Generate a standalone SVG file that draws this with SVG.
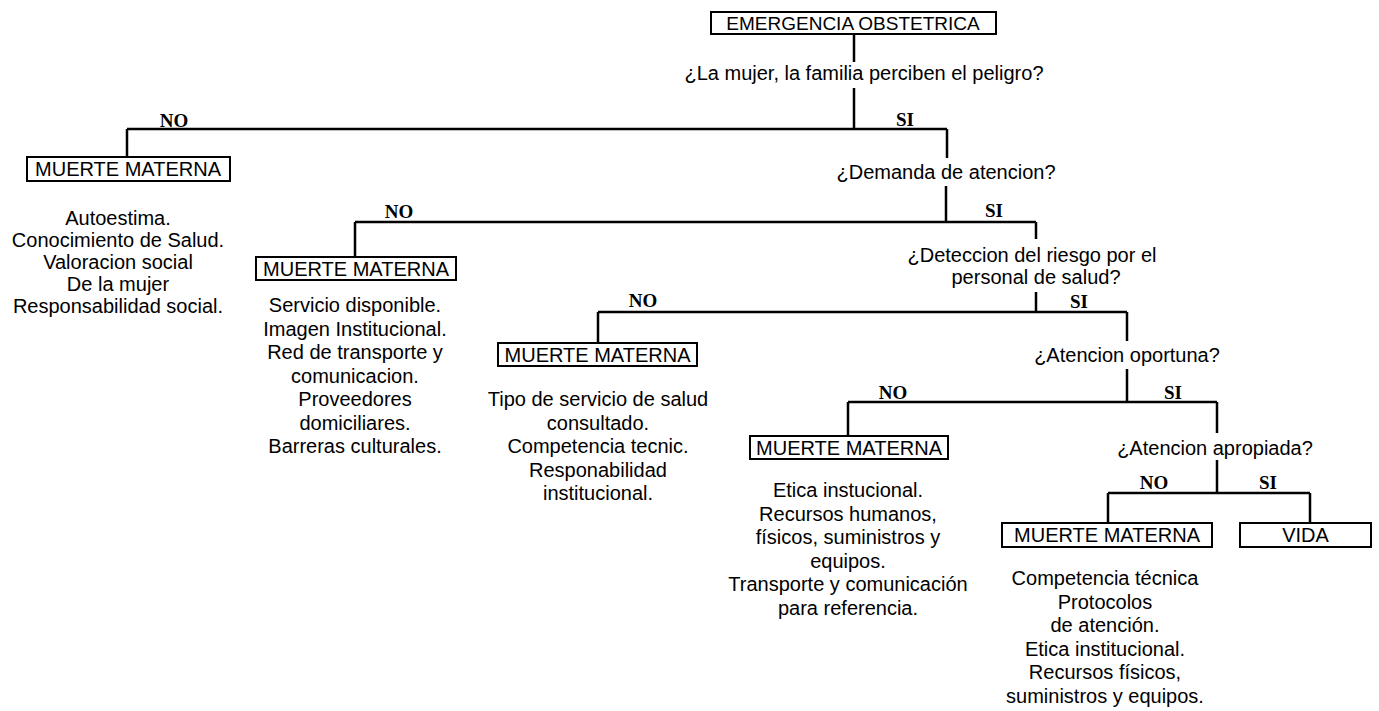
<svg xmlns="http://www.w3.org/2000/svg" width="1379" height="711" viewBox="0 0 1379 711">
<style>
text{font-family:"Liberation Sans",Arial,sans-serif;fill:#000;text-anchor:middle}
.t{font-size:20px}
.bx{font-size:20px}
.lbl{font-family:"Liberation Serif","Times New Roman",serif;font-weight:bold;font-size:19px}
.box{fill:#fff;stroke:#000;stroke-width:2}
.ln{stroke:#000;stroke-width:2.5;fill:none}
</style>
<rect width="1379" height="711" fill="#fff"/>
<g id="connectors" class="ln">
<path d="M854 34V62M854 88V129M127 129H947M127 129V157M947 129V158"/>
<path d="M946 186V222M355 222H1036M355 222V257M1036 222V239"/>
<path d="M1036 292V312M598 312H1127M598 312V343M1127 312V341"/>
<path d="M1127 369V402M848 402H1217M848 402V436M1217 402V433"/>
<path d="M1217 460V493M1108 493H1310M1108 493V523M1310 493V523"/>
</g>
<g id="labels">
<text class="lbl" x="174" y="127">NO</text>
<text class="lbl" x="905" y="126">SI</text>
<text class="lbl" x="399" y="218">NO</text>
<text class="lbl" x="994" y="217">SI</text>
<text class="lbl" x="643" y="307">NO</text>
<text class="lbl" x="1079" y="308">SI</text>
<text class="lbl" x="893" y="399">NO</text>
<text class="lbl" x="1173" y="399">SI</text>
<text class="lbl" x="1154" y="489">NO</text>
<text class="lbl" x="1268" y="489">SI</text>
</g>
<g id="emergencia">
<rect class="box" x="711" y="12" width="285" height="22"/>
<text class="bx" x="853" y="30" style="font-size:19px">EMERGENCIA OBSTETRICA</text>
</g>
<g id="q1"><text class="t" x="864" y="80">¿La mujer, la familia perciben el peligro?</text></g>
<g id="mm1">
<rect class="box" x="27" y="157" width="203" height="24"/>
<text class="bx" x="128" y="176">MUERTE MATERNA</text>
<text class="t" x="118" y="225">Autoestima.</text>
<text class="t" x="118" y="247">Conocimiento de Salud.</text>
<text class="t" x="118" y="269">Valoracion social</text>
<text class="t" x="118" y="291">De la mujer</text>
<text class="t" x="118" y="313">Responsabilidad social.</text>
</g>
<g id="q2"><text class="t" x="946" y="179">¿Demanda de atencion?</text></g>
<g id="mm2">
<rect class="box" x="256" y="257" width="200" height="23"/>
<text class="bx" x="356" y="275.5">MUERTE MATERNA</text>
<text class="t" x="355" y="312">Servicio disponible.</text>
<text class="t" x="355" y="335.5">Imagen Institucional.</text>
<text class="t" x="355" y="359">Red de transporte y</text>
<text class="t" x="355" y="382.5">comunicacion.</text>
<text class="t" x="355" y="406">Proveedores</text>
<text class="t" x="355" y="429.5">domiciliares.</text>
<text class="t" x="355" y="453">Barreras culturales.</text>
</g>
<g id="q3">
<text class="t" x="1032" y="262">¿Deteccion del riesgo por el</text>
<text class="t" x="1036" y="284">personal de salud?</text>
</g>
<g id="mm3">
<rect class="box" x="498" y="343" width="199" height="23"/>
<text class="bx" x="597.5" y="361.5">MUERTE MATERNA</text>
<text class="t" x="598" y="406">Tipo de servicio de salud</text>
<text class="t" x="598" y="429.5">consultado.</text>
<text class="t" x="598" y="453">Competencia tecnic.</text>
<text class="t" x="598" y="476.5">Responabilidad</text>
<text class="t" x="598" y="500">institucional.</text>
</g>
<g id="q4"><text class="t" x="1127" y="362">¿Atencion oportuna?</text></g>
<g id="mm4">
<rect class="box" x="750" y="436" width="198" height="23"/>
<text class="bx" x="849" y="454.5">MUERTE MATERNA</text>
<text class="t" x="848" y="497">Etica instucional.</text>
<text class="t" x="848" y="520.5">Recursos humanos,</text>
<text class="t" x="848" y="544">físicos, suministros y</text>
<text class="t" x="848" y="567.5">equipos.</text>
<text class="t" x="848" y="591">Transporte y comunicación</text>
<text class="t" x="848" y="614.5">para referencia.</text>
</g>
<g id="q5"><text class="t" x="1215" y="455">¿Atencion apropiada?</text></g>
<g id="mm5">
<rect class="box" x="1002" y="523" width="210" height="24"/>
<text class="bx" x="1107" y="542">MUERTE MATERNA</text>
<text class="t" x="1105" y="585">Competencia técnica</text>
<text class="t" x="1105" y="608.5">Protocolos</text>
<text class="t" x="1105" y="632">de atención.</text>
<text class="t" x="1105" y="655.5">Etica institucional.</text>
<text class="t" x="1105" y="679">Recursos físicos,</text>
<text class="t" x="1105" y="702.5">suministros y equipos.</text>
</g>
<g id="vida">
<rect class="box" x="1240" y="523" width="131" height="24"/>
<text class="bx" x="1305.5" y="542">VIDA</text>
</g>
</svg>
